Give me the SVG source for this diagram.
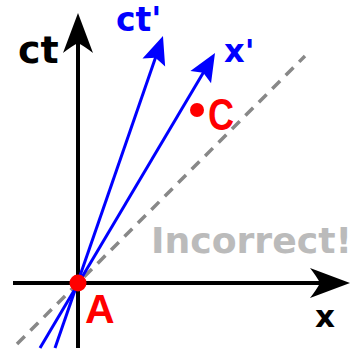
<svg xmlns="http://www.w3.org/2000/svg" width="355" height="352" viewBox="0 0 355 352">
<style>
.ax{stroke:#000;stroke-width:4;fill:none}
.bl{stroke:#0000ff;stroke-width:3;fill:none}
.lbl{font-family:"DejaVu Sans",Verdana,sans-serif;font-weight:bold}
.red{fill:#ff0000}
</style>
<defs>
<marker id="ah" markerUnits="userSpaceOnUse" orient="auto" refX="0" refY="0" markerWidth="60" markerHeight="40" viewBox="-30 -20 60 40" overflow="visible">
<path d="M12,0 L-28,-15 Q-21,-6 -18,0 Q-21,6 -28,15 Z" fill="#000"/>
</marker>
<marker id="bh" markerUnits="userSpaceOnUse" orient="auto" refX="0" refY="0" markerWidth="40" markerHeight="30" viewBox="-20 -15 40 30" overflow="visible">
<path d="M10,0 L-18,-12 L-13,0 L-18,12 Z" fill="#0000ff"/>
</marker>
</defs>
<rect width="355" height="352" fill="#fff"/>
<g id="connectors">
<line id="lightline" x1="17" y1="344" x2="305" y2="56" stroke="#888" stroke-width="3.5" stroke-dasharray="11 8"/>
<line id="ct-axis" class="ax" x1="78" y1="348" x2="78" y2="25" marker-end="url(#ah)"/>
<line id="x-axis" class="ax" x1="13" y1="283" x2="338" y2="283" marker-end="url(#ah)"/>
<line id="ctp-axis" class="bl" x1="55" y1="348" x2="159.7" y2="45.5" marker-end="url(#bh)"/>
<line id="xp-axis" class="bl" x1="40" y1="348" x2="209.9" y2="61.6" marker-end="url(#bh)"/>
</g>
<g id="labels">
<text class="lbl" x="18" y="63" font-size="38" fill="#000">ct</text>
<text class="lbl" x="116" y="31" font-size="33" fill="#0000ff">ct'</text>
<text class="lbl" x="224" y="62" font-size="32" fill="#0000ff">x'</text>
<text class="lbl" x="315" y="327" font-size="31" fill="#000">x</text>
<text class="lbl" x="151" y="253" font-size="35" fill="#bbbbbb" textLength="201" lengthAdjust="spacingAndGlyphs">Incorrect!</text>
</g>
<g id="A">
<circle class="red" cx="78" cy="283" r="8.5"/>
<text class="red" x="85" y="323" font-family="Liberation Sans,Arial,sans-serif" font-weight="bold" font-size="41">A</text>
</g>
<g id="C">
<circle class="red" cx="197" cy="110" r="7"/>
<text class="red" transform="translate(208 130) scale(0.82 1)" x="0" y="0" font-family="Liberation Sans,Arial,sans-serif" font-weight="bold" font-size="44">C</text>
</g>
</svg>
